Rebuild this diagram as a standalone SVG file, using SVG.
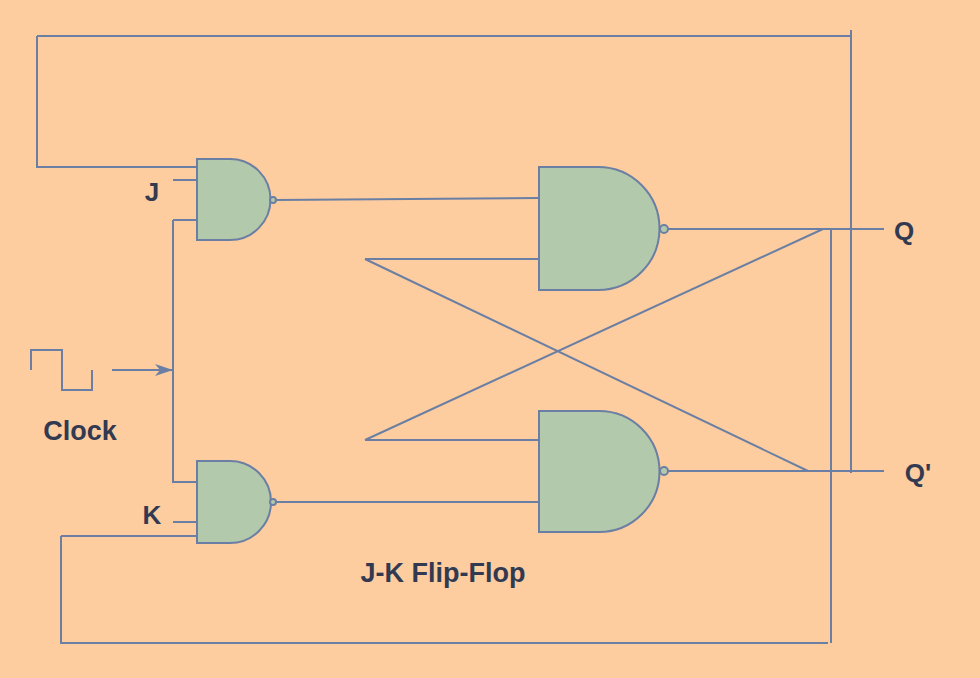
<svg xmlns="http://www.w3.org/2000/svg" width="980" height="678" viewBox="0 0 980 678">
<defs>
<style>
.w{fill:none;stroke:#6a7fa3;stroke-width:2}
.g{fill:#b3c9ac;stroke:#6a7fa3;stroke-width:2}
.t{font-family:"Liberation Sans",Arial,sans-serif;font-weight:bold;fill:#323a52}
</style>
<marker id="ar" viewBox="0 0 18 12" refX="18" refY="6" markerWidth="18" markerHeight="12" orient="auto" markerUnits="userSpaceOnUse"><path d="M0,0L18,6L0,12L5,6z" fill="#6a7fa3"/></marker>
</defs>
<rect width="980" height="678" fill="#fdcc9f"/>
<g id="connectors" class="w">
<path d="M851,30V473M37,36H851M37,36V167H197"/>
<path d="M173,180H197M173,220H197M173,220V482H197M173,522H197"/>
<path d="M61,536H197M61,536V643H828M831,229V643"/>
<path d="M276,200L539,198M365,259H539M365,259L808,471M365,440L823,229"/>
<path d="M276,502H539M365,440H539"/>
<path d="M667,229H884M667,471H884"/>
<path d="M31,370V350H62V390H92V370"/>
<path d="M112,370H173" marker-end="url(#ar)"/>
</g>
<g id="gate1"><path class="g" d="M197,159H230A40.5,40.5 0 0 1 230,240H197Z"/><circle class="g" cx="273" cy="200" r="3"/></g>
<g id="gate2"><path class="g" d="M197,461H230A41,41 0 0 1 230,543H197Z"/><circle class="g" cx="273" cy="502" r="3"/></g>
<g id="gate3"><path class="g" d="M539,167H598A61.5,61.5 0 0 1 598,290H539Z"/><circle class="g" cx="664" cy="229" r="4"/></g>
<g id="gate4"><path class="g" d="M539,411H599A60.5,60.5 0 0 1 599,532H539Z"/><circle class="g" cx="664" cy="471" r="4"/></g>
<g id="labels">
<text class="t" x="152" y="201" font-size="26" text-anchor="middle">J</text>
<text class="t" x="152" y="524" font-size="26" text-anchor="middle">K</text>
<text class="t" x="80" y="440" font-size="27" text-anchor="middle">Clock</text>
<text class="t" x="904" y="240" font-size="26" text-anchor="middle">Q</text>
<text class="t" x="918" y="482" font-size="26" text-anchor="middle">Q'</text>
<text class="t" x="443" y="582" font-size="27" text-anchor="middle">J-K Flip-Flop</text>
</g>
</svg>
